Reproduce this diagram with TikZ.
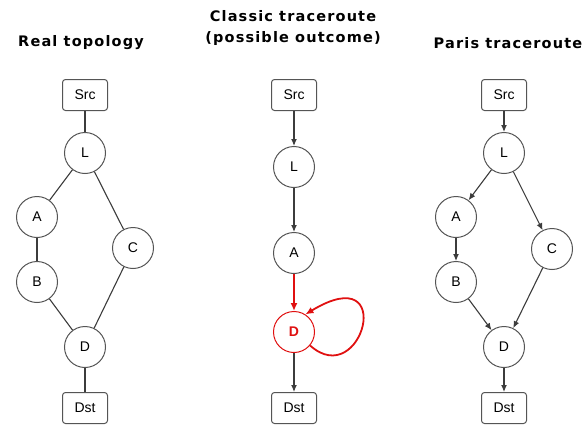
\documentclass[tikz,border=0pt]{standalone}
\usepackage{fontspec}
\setmainfont{Liberation Sans}
\newfontfamily\titlefont{DejaVu Sans}[LetterSpace=8]
\usetikzlibrary{arrows.meta}

\definecolor{edgegray}{HTML}{3C3C3C}
\definecolor{ringgray}{HTML}{555555}
\definecolor{loopred}{HTML}{E01010}

\tikzset{
	router/.style={circle, draw=ringgray, line width=1pt, fill=white,
		minimum size=41pt, inner sep=0pt, font=\fontsize{14}{16}\selectfont},
	hostbox/.style={rectangle, rounded corners=3pt, draw=ringgray, line width=1pt,
		fill=white, minimum width=45pt, minimum height=31pt, inner sep=0pt,
		font=\fontsize{14}{16}\selectfont},
	title/.style={font=\titlefont\bfseries\fontsize{14.5}{21}\selectfont, align=center},
	link/.style={draw=edgegray, line width=1.1pt},
	hop/.style={link, -{Latex[length=7pt,width=6pt]}},
	badhop/.style={draw=loopred, line width=1.8pt, -{Latex[length=8pt,width=7pt]}}
}

\begin{document}
\begin{tikzpicture}[x=1pt, y=-1pt]
		\useasboundingbox (0,0) rectangle (587,424);

		% titles
		\node[title] (treal) at (81,43) {Real topology};
		\node[title] (tclassic) at (293,28) {Classic traceroute\\(possible outcome)};
		\node[title] (tparis) at (508,43) {Paris traceroute};

		% real topology
		\node[hostbox] (rsrc) at (85,95) {Src};
		\node[router] (rl) at (85,153) {L};
		\node[router] (ra) at (37,217) {A};
		\node[router] (rb) at (37,282) {B};
		\node[router] (rc) at (133,248) {C};
		\node[router] (rd) at (85,347) {D};
		\node[hostbox] (rdst) at (85,408) {Dst};
		\draw[link] (rsrc) -- (rl);
		\draw[link] (rl) -- (ra);
		\draw[link] (rl) -- (rc);
		\draw[link] (ra) -- (rb);
		\draw[link] (rb) -- (rd);
		\draw[link] (rc) -- (rd);
		\draw[link] (rd) -- (rdst);

		% classic traceroute
		\node[hostbox] (csrc) at (294,95) {Src};
		\node[router] (cl) at (294,167) {L};
		\node[router] (ca) at (294,253) {A};
		\node[router, draw=loopred, text=loopred, font=\bfseries\fontsize{14}{16}\selectfont] (cd) at (294,332) {D};
		\node[hostbox] (cdst) at (294,408) {Dst};
		\draw[hop] (csrc) -- (cl);
		\draw[hop] (cl) -- (ca);
		\draw[badhop] (ca) -- (cd);
		\draw[badhop] (cd.-40) .. controls (362,392) and (398,258) .. (cd.57);
		\draw[hop] (cd) -- (cdst);

		% paris traceroute
		\node[hostbox] (psrc) at (504,95) {Src};
		\node[router] (pl) at (504,153) {L};
		\node[router] (pa) at (456,217) {A};
		\node[router] (pb) at (456,282) {B};
		\node[router] (pc) at (552,249) {C};
		\node[router] (pd) at (504,347) {D};
		\node[hostbox] (pdst) at (504,408) {Dst};
		\draw[hop] (psrc) -- (pl);
		\draw[hop] (pl) -- (pa);
		\draw[hop] (pl) -- (pc);
		\draw[hop] (pa) -- (pb);
		\draw[hop] (pb) -- (pd);
		\draw[hop] (pc) -- (pd);
		\draw[hop] (pd) -- (pdst);
	\end{tikzpicture}
\end{document}
